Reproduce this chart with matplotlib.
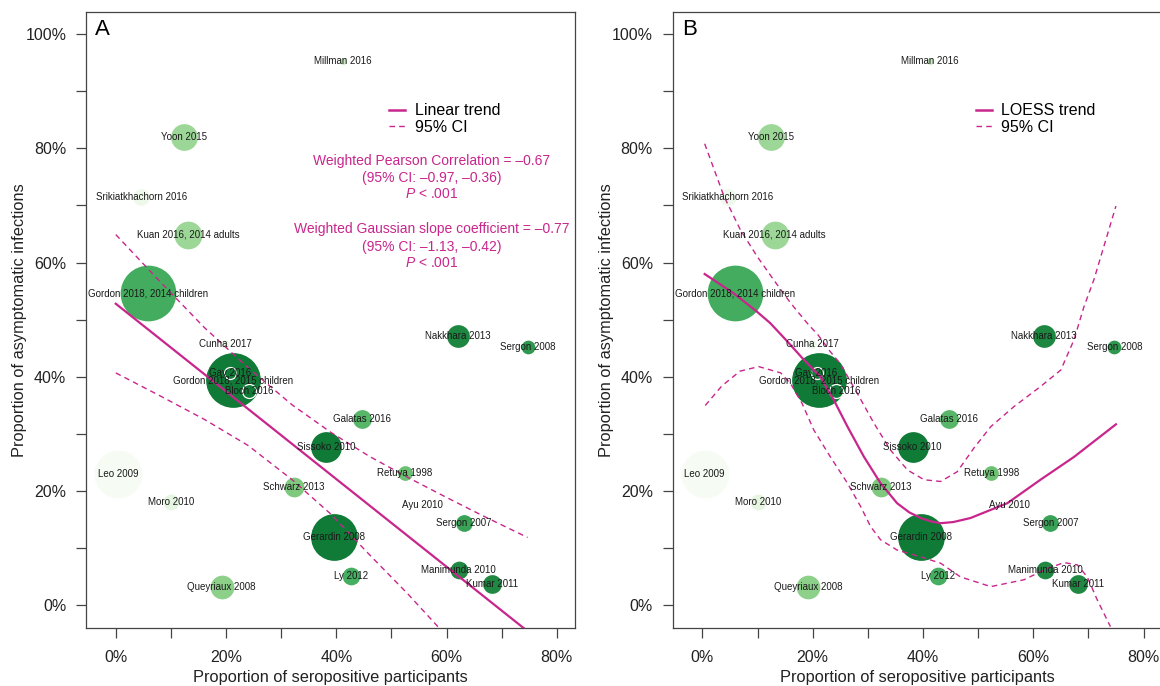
import matplotlib
matplotlib.use('Agg')
import matplotlib.pyplot as plt
import numpy as np
from matplotlib.ticker import MultipleLocator, FuncFormatter
from matplotlib.lines import Line2D

plt.rcParams['font.family'] = ['Liberation Sans', 'DejaVu Sans']
plt.rcParams['mathtext.fontset'] = 'custom'
plt.rcParams['mathtext.rm'] = 'Liberation Sans'
plt.rcParams['mathtext.it'] = 'Liberation Sans:italic'

# %% study data
studies = ['Millman 2016', 'Yoon 2015', 'Srikiatkhachorn 2016', 'Kuan 2016, 2014 adults',
           'Gordon 2018, 2014 children', 'Nakkhara 2013', 'Sergon 2008', 'Cunha 2017',
           'Gordon 2018, 2015 children', 'Gay 2016', 'Bloch 2016', 'Galatas 2016',
           'Sissoko 2010', 'Retuya 1998', 'Leo 2009', 'Schwarz 2013', 'Moro 2010',
           'Ayu 2010', 'Sergon 2007', 'Gerardin 2008', 'Manimunda 2010', 'Ly 2012',
           'Kumar 2011', 'Queyriaux 2008']
sero = [41.2, 12.4, 4.6, 13.1, 5.9, 62.0, 74.7, 19.9, 21.2, 20.7, 24.2, 44.7,
        38.1, 52.4, 0.4, 32.3, 10.1, 55.6, 63.1, 39.6, 62.2, 42.7, 68.2, 19.2]
asym = [95.2, 82.0, 71.4, 64.9, 54.6, 47.1, 45.2, 45.8, 39.4, 40.7, 37.6, 32.6,
        27.7, 23.2, 23.0, 20.8, 18.1, 17.6, 14.4, 11.9, 6.2, 5.2, 3.7, 3.2]
weight = [4, 14, 9, 14.5, 28.5, 12, 7.5, 5, 28, 6, 7, 10,
          16, 8, 24.5, 10.5, 8.5, 3, 9, 24, 9.5, 9.5, 10, 12.5]
shade = [0.25, 0.39, 0.06, 0.39, 0.62, 0.77, 0.70, 0.08, 0.82, 0.82, 0.82, 0.57,
         0.82, 0.52, 0.01, 0.47, 0.12, 0.05, 0.66, 0.82, 0.76, 0.61, 0.76, 0.43]

# linear trend and its 95% CI (panel A)
lin_x = [0, 74.7]
lin_y = [52.8, -4.5]
lin_up_x = [0, 8, 16, 24, 32, 39, 46, 53, 60, 67, 74.7]
lin_up_y = [64.9, 56.7, 48.7, 41.6, 35.1, 30.3, 26.1, 22.4, 18.9, 15.5, 11.9]
lin_lo_x = [0, 8, 16, 24, 32, 39, 46, 53, 59]
lin_lo_y = [40.7, 36.7, 32.6, 28.0, 22.0, 16.0, 8.9, 2.0, -4.3]

# LOESS trend and its 95% CI (panel B)
lo_x = [0.4, 5.7, 9.9, 12.3, 15.4, 18.1, 21.4, 23.8, 26.3, 29.3, 32.3, 35.3,
        37.5, 39.6, 41.5, 43.2, 45.5, 48.6, 55.3, 61.3, 67.4, 75.0]
lo_y = [58.0, 54.6, 51.4, 49.4, 46.2, 43.3, 40.0, 36.0, 31.3, 26.0, 21.4, 17.9,
        16.3, 15.3, 14.7, 14.4, 14.6, 15.3, 17.9, 22.0, 26.0, 31.7]
lo_up_x = [0.4, 3.9, 6.9, 9.9, 12.9, 16.0, 19.0, 21.0, 23.2, 25.0, 28.1, 31.1,
           34.1, 37.2, 40.2, 43.2, 46.2, 49.2, 52.3, 56.5, 61.3, 65.0, 67.4, 69.2,
           71.0, 72.8, 75.0]
lo_up_y = [80.8, 71.6, 65.7, 61.1, 57.0, 52.9, 49.4, 47.3, 44.4, 42.3, 37.1, 31.9,
           27.2, 23.7, 22.0, 21.7, 23.4, 27.5, 31.3, 34.8, 38.3, 41.2, 46.5, 52.3,
           57.0, 62.8, 69.9]
lo_lo_x = [0.5, 3.5, 6.8, 10.2, 14.2, 16.0, 18.0, 20.2, 23.2, 26.3, 28.7, 30.5,
           32.3, 35.3, 39.6, 43.2, 46.8, 52.3, 58.3, 62.6, 65.6, 68.0, 69.8, 71.6, 74.0]
lo_lo_y = [35.0, 38.4, 41.0, 41.8, 40.7, 38.8, 35.5, 30.7, 26.0, 21.4, 17.3, 13.8,
           11.5, 9.7, 8.5, 7.4, 5.0, 3.3, 4.5, 6.5, 7.5, 7.1, 5.0, 1.0, -3.7]

stats_lines = ['Weighted Pearson Correlation = \u20130.67', '(95% CI: \u20130.97, \u20130.36)',
               '$P$ < .001', 'Weighted Gaussian slope coefficient = \u20130.77',
               '(95% CI: \u20131.13, \u20130.42)', '$P$ < .001']

# %%
pink = '#c8268c'
W, H = 1160, 686
fig = plt.figure(figsize=(W / 100, H / 100), dpi=100)


def base_panel(left_px, letter):
    ax = fig.add_axes([left_px / W, 58 / H, 489 / W, 616 / H])
    order = np.argsort(weight)[::-1]
    cmap = plt.get_cmap('Greens')
    for i in order:
        ax.scatter(sero[i], asym[i], s=(1.44 * weight[i]) ** 2, color=cmap(shade[i]),
                   edgecolor='white', linewidth=0.9, zorder=2)
    for i in range(len(studies)):
        ax.text(sero[i], asym[i], studies[i], fontsize=7, ha='center', va='center',
                color='#1a1a1a', zorder=4)
    ax.set_xlim(-5.4, 83.3)
    ax.set_ylim(-3.94, 103.85)
    ax.xaxis.set_major_locator(MultipleLocator(10))
    ax.yaxis.set_major_locator(MultipleLocator(10))
    pct = FuncFormatter(lambda v, p: f'{v:.0f}%' if round(v) % 20 == 0 else '')
    ax.xaxis.set_major_formatter(pct)
    ax.yaxis.set_major_formatter(pct)
    ax.tick_params(axis='x', length=7.2, width=0.9, color='#444', pad=8.5, labelsize=11.5,
                   labelcolor='#222')
    ax.tick_params(axis='y', length=7.2, width=0.9, color='#444', pad=7, labelsize=11.5,
                   labelcolor='#222')
    for sp in ax.spines.values():
        sp.set_color('#444')
        sp.set_linewidth(0.9)
    ax.text(0.5, -0.081, 'Proportion of seropositive participants', transform=ax.transAxes,
            ha='center', va='center', fontsize=11.8, color='#222')
    ax.text(-0.135, 0.5, 'Proportion of asymptomatic infections', transform=ax.transAxes,
            ha='center', va='center', rotation=90, fontsize=11.8, color='#222')
    ax.text(0.019, 0.971, letter, transform=ax.transAxes, ha='left', va='center',
            fontsize=16, color='black')
    return ax


axA = base_panel(86, 'A')
axA.plot(lin_x, lin_y, color=pink, lw=1.6, zorder=3)
axA.plot(lin_up_x, lin_up_y, color=pink, lw=1.0, dashes=(4, 3), zorder=3)
axA.plot(lin_lo_x, lin_lo_y, color=pink, lw=1.0, dashes=(4, 3), zorder=3)
ys = [0.758, 0.7305, 0.7045, 0.6477, 0.6185, 0.5925]
for line, yy in zip(stats_lines, ys):
    axA.text(0.7076, yy, line, transform=axA.transAxes, ha='center', va='center',
             fontsize=10, color=pink)

axB = base_panel(672.7, 'B')
axB.plot(lo_x, lo_y, color=pink, lw=1.6, zorder=3, solid_joinstyle='round')
axB.plot(lo_up_x, lo_up_y, color=pink, lw=1.0, dashes=(4, 3), zorder=3)
axB.plot(lo_lo_x, lo_lo_y, color=pink, lw=1.0, dashes=(4, 3), zorder=3)

for ax, name in [(axA, 'Linear trend'), (axB, 'LOESS trend')]:
    handles = [Line2D([], [], color=pink, lw=1.8),
               Line2D([], [], color=pink, lw=1.0, dashes=(4, 3))]
    ax.legend(handles, [name, '95% CI'], loc='upper left', bbox_to_anchor=(0.62, 0.852),
              frameon=False, fontsize=11.5, handlelength=1.0, handletextpad=0.6,
              labelspacing=0.1, borderpad=0, borderaxespad=0)

fig.savefig('out.png', dpi=100)
